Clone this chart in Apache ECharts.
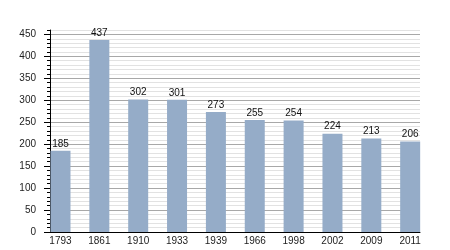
<!DOCTYPE html>
<html>
<head>
<meta charset="utf-8">
<script src="https://cdn.jsdelivr.net/npm/echarts@6/dist/echarts.min.js"></script>
<style>html,body{margin:0;padding:0;background:#fff}#c{width:450px;height:250px}</style>
</head>
<body>
<div id="c"></div>
<script>
var years = ['1793','1861','1910','1933','1939','1966','1998','2002','2009','2011'];
var population = [185, 437, 302, 301, 273, 255, 254, 224, 213, 206];
var yTickLabels = [0, 50, 100, 150, 200, 250, 300, 350, 400, 450];

var chart = echarts.init(document.getElementById('c'), null, {renderer: 'canvas'});
var font = "'Liberation Sans', Arial, sans-serif";
var positions = years.map(function (y, i) { return i; });

chart.setOption({
  animation: false,
  backgroundColor: '#ffffff',
  grid: {left: 50, right: 30, top: 30, bottom: 18, containLabel: false},
  xAxis: {
    type: 'value', min: -0.27, max: 9.253,
    axisLine: {show: true, onZero: false, lineStyle: {color: '#000', width: 1}},
    axisTick: {show: false},
    splitLine: {show: false},
    axisLabel: {
      customValues: positions,
      formatter: function (v) { return years[Math.round(v)]; },
      fontSize: 10, fontFamily: font, color: '#222', margin: 4
    }
  },
  yAxis: [{
    type: 'value', min: 0, max: 460, interval: 10, position: 'left',
    axisLine: {show: true, onZero: false, lineStyle: {color: '#000', width: 1}},
    axisTick: {show: true, length: 3, lineStyle: {color: '#000'}},
    axisLabel: {customValues: yTickLabels, fontSize: 10, fontFamily: font, color: '#222', margin: 14},
    splitLine: {show: true, showMinLine: true, showMaxLine: true,
      lineStyle: {color: ['#a8a8a8', '#e2e2e2', '#e2e2e2', '#e2e2e2', '#e2e2e2'], width: 1}}
  }, {
    type: 'value', min: 0, max: 460, position: 'left',
    axisLine: {show: false, onZero: false},
    axisTick: {show: true, length: 6, customValues: yTickLabels, lineStyle: {color: '#000'}},
    axisLabel: {show: false},
    splitLine: {show: false}
  }],
  series: [{
    type: 'bar',
    yAxisIndex: 0,
    barWidth: 20,
    data: population.map(function (v, i) { return [i, v]; }),
    itemStyle: {color: '#95acc8'},
    label: {show: true, position: 'top', distance: 2, fontSize: 10, fontFamily: font, color: '#111'}
  }]
});
</script>
</body>
</html>
